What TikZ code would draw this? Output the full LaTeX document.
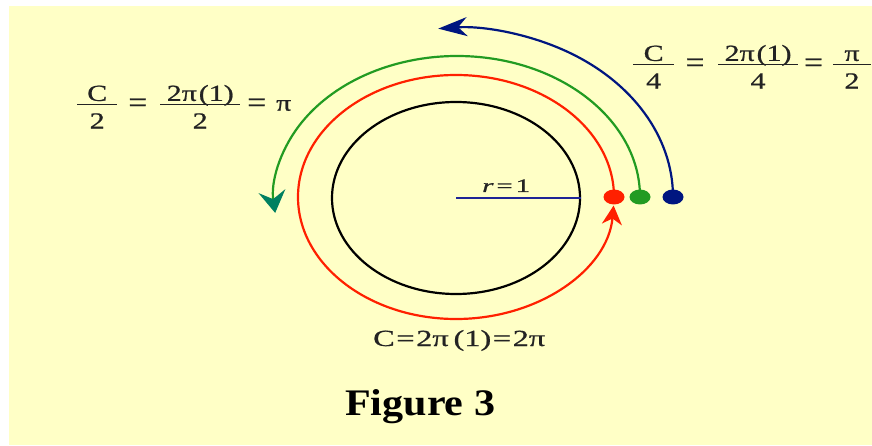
\documentclass[tikz,border=0pt]{standalone}
\usepackage{amsmath}
\usepackage{fontspec}
\setmainfont{Liberation Serif}
\newfontfamily\eqfont{Liberation Serif}[FakeBold=0.7]
\usepackage{graphicx}
\usetikzlibrary{shapes.geometric,arrows.meta}
\definecolor{bgyellow}{RGB}{255,255,198}
\definecolor{navyc}{RGB}{0,22,128}
\definecolor{linec}{RGB}{30,36,150}
\definecolor{redc}{RGB}{255,32,0}
\definecolor{greenc}{RGB}{34,155,34}
\definecolor{tealc}{RGB}{0,128,96}
\definecolor{txtgray}{RGB}{35,35,35}
% slot of fixed width (natural units, before the 1.3 horizontal stretch)
\newcommand{\slot}[2]{\mbox{\makebox[#1][c]{#2}}}
\newcommand{\eqsign}{\raisebox{-1.5pt}{\resizebox{14.5pt}{1.3\height}{=}}}
% fraction whose bar is #1 wide: numerator without depth, denominator pushed down by a strut
\newcommand{\myfr}[3]{\genfrac{}{}{1.7pt}{1}{\mbox{\makebox[#1][c]{\raisebox{0pt}[\height][0pt]{#2}}}}{\mbox{\rule{0pt}{21.5pt}#3}}}
\newcommand{\gap}[1]{\kern#1}
\tikzset{
  eq/.style={inner sep=0pt, text=txtgray, font=\eqfont\fontsize{23pt}{27pt}\selectfont},
  dotmark/.style={ellipse, inner sep=0pt, minimum width=21pt, minimum height=15pt},
  arcline/.style={line width=2.2pt}
}
\begin{document}
\nulldelimiterspace=0pt
\begin{tikzpicture}[x=1pt,y=1pt]
\useasboundingbox (0,0) rectangle (872,445);
\fill[bgyellow] (9,0) rectangle (872,439);
\coordinate (o) at (456,247);
% unit circle (drawn as ellipse)
\node[ellipse, draw=black, line width=2.2pt, minimum width=248pt, minimum height=192pt, inner sep=0pt] (circ) at (o) {};
\draw[linec, line width=2.8pt] (circ.center) -- (circ.east);
\node[inner sep=0pt, text=txtgray, font=\eqfont, anchor=base west] (rlab) at (482,253) {\resizebox{48pt}{12.5pt}{\textit{r}\kern1pt=\kern1pt1}};
% start points
\coordinate (rp) at (614,248);
\coordinate (gp) at (640,248);
\coordinate (bp) at (673,248);
% arcs
\draw[redc, arcline, -{Stealth[length=19pt,width=20pt,inset=6pt]}] (rp) arc[start angle=0, end angle=356, x radius=158, y radius=122];
\draw[greenc, arcline, -{Stealth[length=22pt,width=27pt,inset=8pt,color=tealc,fill=tealc]}] (gp) arc[start angle=0, end angle=186.5, x radius=183, y radius=141];
\draw[navyc, arcline, -{Stealth[length=29pt,width=19pt,inset=9pt]}] (bp) arc[start angle=0, end angle=95, x radius=216, y radius=169];
% dots
\node[dotmark, fill=redc] (rdot) at (rp) {};
\node[dotmark, fill=greenc] (gdot) at (gp) {};
\node[dotmark, fill=navyc] (bdot) at (bp) {};
% equations
\node[eq, anchor=base west] (eqL) at (77,334.3) {\scalebox{1.3}[1]{$\myfr{30.8pt}{C}{2}\gap{8.5pt}\slot{14.6pt}{\eqsign}\gap{10pt}\myfr{61.5pt}{2π\kern1.5pt(1)}{2}\gap{6.2pt}\slot{13pt}{\eqsign}\gap{7pt}\slot{14.6pt}{π}$}};
\node[eq, anchor=base west] (eqR) at (633,374.3) {\scalebox{1.3}[1]{$\myfr{31.5pt}{C}{4}\gap{9.2pt}\slot{13.8pt}{\eqsign}\gap{10.8pt}\myfr{61.5pt}{2π\kern1.5pt(1)}{4}\gap{4.6pt}\slot{14.6pt}{\eqsign}\gap{7.7pt}\myfr{29.2pt}{π}{2}$}};
\node[inner sep=0pt, text=txtgray, font=\eqfont, anchor=base west] (eqC) at (373,99) {\resizebox{172pt}{16pt}{C\kern0.5pt=\kern0.5pt2π\kern1.5pt(1)\kern0.5pt=\kern0.5pt2π}};
\node[inner sep=0pt, anchor=base west] (fig) at (345,30) {\resizebox{150pt}{26pt}{\bfseries Figure 3}};
\end{tikzpicture}
\end{document}
